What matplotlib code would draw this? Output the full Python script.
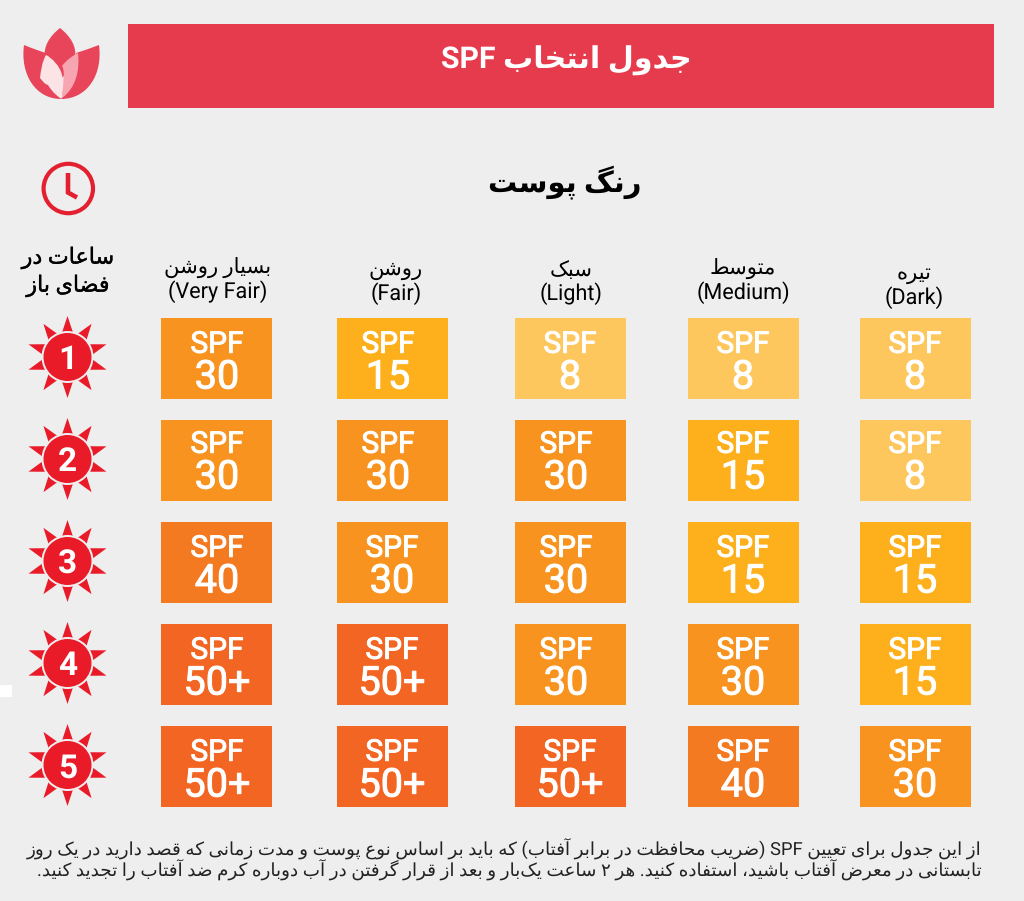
import re
import numpy as np
import matplotlib
matplotlib.use('Agg')
import matplotlib.pyplot as plt
import matplotlib.patheffects as pe
from matplotlib.patches import Circle, Polygon, PathPatch, Rectangle
from matplotlib.path import Path

plt.rcParams['font.family'] = ['Roboto', 'DejaVu Sans']
plt.rcParams['text.hinting'] = 'none'

# data
title = 'جدول انتخاب SPF'
skin_title = 'رنگ پوست'
hours_title = ['ساعات در', 'فضای باز']
skin_fa = ['بسیار روشن', 'روشن', 'سبک', 'متوسط', 'تیره']
skin_en = ['(Very Fair)', '(Fair)', '(Light)', '(Medium)', '(Dark)']
hours = ['1', '2', '3', '4', '5']
spf_values = [
    ['30', '15', '8', '8', '8'],
    ['30', '30', '30', '15', '8'],
    ['40', '30', '30', '15', '15'],
    ['50+', '50+', '30', '30', '15'],
    ['50+', '50+', '50+', '40', '30'],
]
note_lines = [
    'از این جدول برای تعیین SPF (ضریب محافظت در برابر آفتاب) که باید بر اساس نوع پوست و مدت زمانی که قصد دارید در یک روز',
    'تابستانی در معرض آفتاب باشید، استفاده کنید. هر ۲ ساعت یک\u200cبار و بعد از قرار گرفتن در آب دوباره کرم ضد آفتاب را تجدید کنید.',
]

# layout, pixels
col_x = [216.5, 392.5, 570.5, 743.5, 915.5]
row_y = [318, 420, 522, 624, 726]
cell_w = 111
cell_h = 81
text_x = [
    [217, 388, 570, 743, 915],
    [217, 388, 566, 743, 915],
    [217, 392, 566, 743, 915],
    [217, 392, 566, 743, 915],
    [217, 392, 570, 743, 915],
]
text_dy = [0, -2, 0, 0, 0]
head_x = [218, 396, 571, 743, 914]
head_y = [268, 270, 270, 269, 274]
sun_x = 67.5
colors = {'8': '#FEC75D', '15': '#FDB01B', '30': '#F7931E', '40': '#F47A22', '50+': '#F26522'}
bg = '#EEEEEE'
red = '#EA1B29'

# presentation forms: first code point, number of forms
forms = {
    'ء': (0xFE80, 1), 'آ': (0xFE81, 2), 'أ': (0xFE83, 2), 'ؤ': (0xFE85, 2), 'إ': (0xFE87, 2), 'ئ': (0xFE89, 4),
    'ا': (0xFE8D, 2), 'ب': (0xFE8F, 4), 'ة': (0xFE93, 2), 'ت': (0xFE95, 4), 'ث': (0xFE99, 4), 'ج': (0xFE9D, 4),
    'ح': (0xFEA1, 4), 'خ': (0xFEA5, 4), 'د': (0xFEA9, 2), 'ذ': (0xFEAB, 2), 'ر': (0xFEAD, 2), 'ز': (0xFEAF, 2),
    'س': (0xFEB1, 4), 'ش': (0xFEB5, 4), 'ص': (0xFEB9, 4), 'ض': (0xFEBD, 4), 'ط': (0xFEC1, 4), 'ظ': (0xFEC5, 4),
    'ع': (0xFEC9, 4), 'غ': (0xFECD, 4), 'ف': (0xFED1, 4), 'ق': (0xFED5, 4), 'ل': (0xFEDD, 4), 'م': (0xFEE1, 4),
    'ن': (0xFEE5, 4), 'ه': (0xFEE9, 4), 'و': (0xFEED, 2), 'پ': (0xFB56, 4), 'چ': (0xFB7A, 4), 'ژ': (0xFB8A, 2),
    'ک': (0xFB8E, 4), 'گ': (0xFB92, 4), 'ی': (0xFBFC, 4),
}
lam_alef = {'ا': 0xFEFB, 'آ': 0xFEF5}


def shape(s):
    out = []
    i = 0
    while i < len(s):
        c = s[i]
        if c not in forms:
            if c != '\u200c':
                out.append(c)
            i += 1
            continue
        prev = s[i - 1] if i > 0 else ''
        nxt = s[i + 1] if i + 1 < len(s) else ''
        joins_prev = prev in forms and forms[prev][1] == 4
        if c == 'ل' and nxt in lam_alef:
            out.append(chr(lam_alef[nxt] + (1 if joins_prev else 0)))
            i += 2
            continue
        joins_next = nxt in forms and forms[c][1] == 4
        start, n = forms[c]
        if n == 1:
            k = 0
        elif joins_prev and joins_next:
            k = 3
        elif joins_prev:
            k = 1
        elif joins_next:
            k = 2
        else:
            k = 0
        out.append(chr(start + k))
        i += 1
    return ''.join(out)


def fa(s):
    # matplotlib lays text out left to right, so give it the visual order
    s = shape(s)[::-1]
    s = s.translate(str.maketrans('()', ')('))
    return re.sub(r'[A-Za-z0-9+]+', lambda m: m.group(0)[::-1], s)


fig = plt.figure(figsize=(10.24, 9.01), dpi=100, facecolor=bg)
ax = fig.add_axes([0, 0, 1, 1])
ax.set_xlim(0, 1024)
ax.set_ylim(901, 0)
ax.axis('off')

# banner and titles
ax.add_patch(Rectangle((128, 24), 866, 84, color='#E63B4C', lw=0))
ax.text(566, 61, fa(title), color='white', fontsize=21.7, fontweight='bold', ha='center', va='center')
ax.text(565, 182, fa(skin_title), color='black', fontsize=21, fontweight='bold', ha='center', va='center')

# logo
logo_red = '#E8445A'
logo_pink = '#F8A5B2'
C3 = Path.CURVE3
C4 = Path.CURVE4
M = Path.MOVETO
petal_mid = Path([(60, 28), (50, 36), (43, 46), (45, 58), (47, 68), (55, 75), (60, 80),
                  (65, 75), (73, 68), (75, 58), (77, 46), (70, 36), (60, 28)],
                 [M] + [C4] * 12)
petal_left = Path([(24, 45), (20, 75), (36, 99), (61, 99), (52, 85), (42, 70), (46, 53), (36, 50), (24, 45)],
                  [M, C4, C4, C4, C4, C4, C4, C3, C3])
petal_right = Path([(99, 45), (103, 75), (87, 99), (61, 99), (70, 85), (80, 70), (76, 53), (86, 50), (99, 45)],
                   [M, C4, C4, C4, C4, C4, C4, C3, C3])
face_pink = Path([(78, 53), (80, 70), (76, 88), (62, 98), (62, 85), (66, 72), (62, 66), (68, 58), (78, 53)],
                 [M, C4, C4, C4, C4, C4, C4, C3, C3])
face_white = Path([(46, 55), (52, 58), (60, 66), (62, 75), (65, 85), (62, 92), (60, 98),
                   (52, 92), (50, 88), (48, 85), (44, 84), (42, 80), (40, 78),
                   (41, 70), (42, 62), (46, 55)],
                  [M] + [C4] * 15)
for p, c in [(petal_left, logo_red), (petal_right, logo_red), (petal_mid, logo_red), (face_pink, logo_pink), (face_white, '#FBE3E6')]:
    ax.add_patch(PathPatch(p, facecolor=c, edgecolor='none'))

# clock
ax.add_patch(Circle((68.3, 188.5), 24.7, facecolor='none', edgecolor='#E3202F', lw=3))
ax.plot([68, 68, 77], [173, 192.5, 197.5], color='#E3202F', lw=3.3, solid_joinstyle='miter', solid_capstyle='butt')

# row and column headers
semi = [pe.withStroke(linewidth=0.25, foreground='black')]
for y, s in zip([258, 286], hours_title):
    ax.text(68, y, fa(s), fontsize=16, ha='center', va='center', path_effects=semi)
for i in range(5):
    ax.text(head_x[i], head_y[i], fa(skin_fa[i]), fontsize=15.2, ha='center', va='center')
    ax.text(head_x[i], head_y[i] + 24, skin_en[i], fontsize=15.6, ha='center', va='center')

# suns
angles = np.deg2rad(np.arange(90, 450, 36))
for j, h in enumerate(hours):
    cy = row_y[j] + 39
    c0 = np.array([sun_x, cy])
    for a in angles:
        d = np.array([np.cos(a), -np.sin(a)])
        n = np.array([d[1], -d[0]])
        ax.add_patch(Polygon([c0 + d * 41, c0 + d * 22 + n * 6.3, c0 + d * 22 - n * 6.3], color=red, lw=0))
    ax.add_patch(Circle((sun_x, cy), 26, color=bg, lw=0))
    ax.add_patch(Circle((sun_x, cy), 24, color=red, lw=0))
    ax.text(sun_x, cy, h, color='white', fontsize=24, fontweight='bold', ha='center', va='center_baseline')

# cells
medium = [pe.withStroke(linewidth=0.7, foreground='white')]
for j, row in enumerate(spf_values):
    ax.bar(col_x, [cell_h] * 5, width=cell_w, bottom=row_y[j], color=[colors[v] for v in row], linewidth=0)
    for i, v in enumerate(row):
        ax.text(text_x[j][i], row_y[j] + 23.5 + text_dy[j], 'SPF', color='white', fontsize=21.5, ha='center', va='center_baseline', path_effects=medium)
        ax.text(text_x[j][i], row_y[j] + 55.5 + text_dy[j], v, color='white', fontsize=28.5, ha='center', va='center_baseline', path_effects=medium)

# note and the stray white square at the left edge
ax.text(982, 849, fa(note_lines[0]), fontsize=13.2, color='#222222', ha='right', va='center')
ax.text(982, 870, fa(note_lines[1]), fontsize=13.2, color='#222222', ha='right', va='center')
ax.add_patch(Rectangle((0, 685), 12, 12, color='white', lw=0))

fig.savefig('out.png', dpi=100, facecolor=bg)
